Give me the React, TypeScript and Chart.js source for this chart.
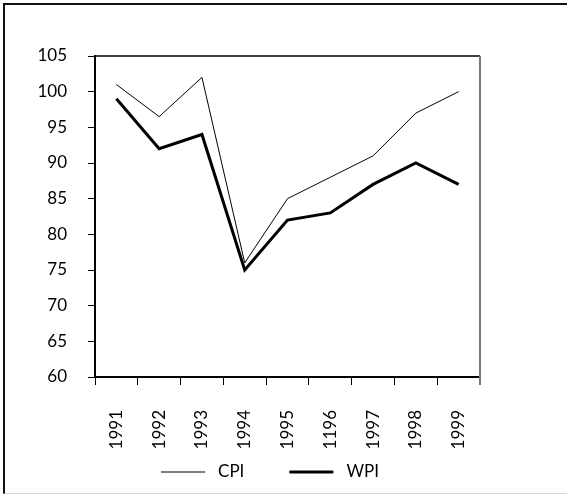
import React, { useEffect, useRef } from "react";
import { Chart, registerables } from "chart.js";

Chart.register(...registerables);

const years = ["1991", "1992", "1993", "1994", "1995", "1196", "1997", "1998", "1999"];
const cpi = [101, 96.5, 102, 76, 85, 88, 91, 97, 100];
const wpi = [99, 92, 94, 75, 82, 83, 87, 90, 87];
const yMin = 60;
const yMax = 105;
const yStep = 5;

const FONT_FAMILY = "Lato, 'Open Sans', sans-serif";
const FONT_SIZE = 17;
const FONT = { family: FONT_FAMILY, size: FONT_SIZE };

const framePlugin = {
  id: "frame",
  afterDraw(chart: any) {
    const { ctx, chartArea } = chart;
    ctx.save();
    ctx.strokeStyle = "#000";
    ctx.lineWidth = 1.5;
    ctx.beginPath();
    ctx.moveTo(chartArea.left - 1, chartArea.top);
    ctx.lineTo(chartArea.right, chartArea.top);
    ctx.stroke();
    ctx.strokeStyle = "#777";
    ctx.lineWidth = 2;
    ctx.beginPath();
    ctx.moveTo(chartArea.right, chartArea.top);
    ctx.lineTo(chartArea.right, chartArea.bottom + 8);
    ctx.stroke();
    ctx.restore();
  },
};

// Legend drawn from the datasets (label + line width)
const lineLegendPlugin = {
  id: "lineLegend",
  afterDraw(chart: any) {
    const { ctx } = chart;
    const datasets = chart.data.datasets;
    const lineLen = 44;
    const textGap = 13;
    const itemGap = 45;
    const centerX = 270;
    const y = 472;
    ctx.save();
    ctx.font = `${FONT_SIZE}px ${FONT_FAMILY}`;
    const widths = datasets.map((d: any) => lineLen + textGap + ctx.measureText(d.label).width);
    const total = widths.reduce((a: number, b: number) => a + b, 0) + itemGap * (datasets.length - 1);
    let x = centerX - total / 2;
    datasets.forEach((d: any, i: number) => {
      ctx.strokeStyle = d.borderColor;
      ctx.lineWidth = d.borderWidth;
      ctx.beginPath();
      ctx.moveTo(x, y);
      ctx.lineTo(x + lineLen, y);
      ctx.stroke();
      ctx.fillStyle = "#000";
      ctx.textAlign = "left";
      ctx.textBaseline = "middle";
      ctx.fillText(d.label, x + lineLen + textGap, y);
      x += widths[i] + itemGap;
    });
    ctx.restore();
  },
};

export default function App() {
  const ref = useRef<HTMLCanvasElement | null>(null);
  useEffect(() => {
    if (!ref.current) return;
    const chart = new Chart(ref.current, {
      type: "line",
      data: {
        labels: years,
        datasets: [
          {
            label: "CPI",
            data: cpi,
            borderColor: "#000",
            backgroundColor: "#000",
            borderWidth: 1,
            pointRadius: 0,
            tension: 0,
          },
          {
            label: "WPI",
            data: wpi,
            borderColor: "#000",
            backgroundColor: "#000",
            borderWidth: 3,
            pointRadius: 0,
            tension: 0,
          },
        ],
      },
      options: {
        responsive: false,
        animation: false,
        layout: { padding: { left: 30, right: 87, top: 56, bottom: 39 } },
        plugins: {
          tooltip: { enabled: false },
          legend: { display: false },
        },
        scales: {
          x: {
            offset: true,
            grid: {
              display: true,
              drawOnChartArea: false,
              drawTicks: true,
              tickLength: 8,
              color: "#000",
              offset: true,
            },
            border: { display: true, color: "#000", width: 2 },
            ticks: {
              minRotation: 90,
              maxRotation: 90,
              autoSkip: false,
              padding: 25,
              color: "#000",
              font: FONT,
            },
            afterFit: (s: any) => {
              s.height = 80;
            },
          },
          y: {
            min: yMin,
            max: yMax,
            grid: {
              display: true,
              drawOnChartArea: false,
              drawTicks: true,
              tickLength: 7,
              color: "#000",
            },
            border: { display: true, color: "#000", width: 2 },
            ticks: {
              stepSize: yStep,
              padding: 21,
              color: "#000",
              font: FONT,
            },
            afterFit: (s: any) => {
              s.width = 65;
            },
          },
        },
      },
      plugins: [framePlugin, lineLegendPlugin],
    });
    return () => chart.destroy();
  }, []);

  return (
    <div style={{ position: "absolute", left: 0, top: 0, width: 567, height: 496, background: "#fff", overflow: "hidden" }}>
      <div
        style={{
          position: "absolute",
          left: 3,
          top: 3,
          width: 600,
          height: 491,
          borderLeft: "2px solid #111",
          borderTop: "2px solid #111",
          borderBottom: "1px solid #d8d8d8",
          boxSizing: "border-box",
        }}
      />
      <canvas ref={ref} width={567} height={496} style={{ position: "absolute", left: 0, top: 0 }} />
    </div>
  );
}
